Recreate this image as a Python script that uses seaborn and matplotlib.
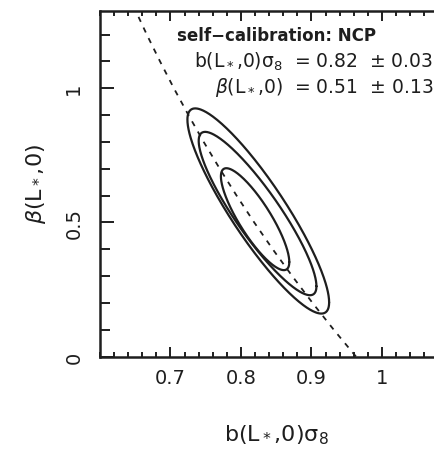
import numpy as np
import matplotlib
matplotlib.use("Agg")
import matplotlib.pyplot as plt
from matplotlib.ticker import MultipleLocator
import seaborn as sns

# Degeneracy curve (beta vs b*sigma8)
curve_beta = [0.0, 0.1, 0.2, 0.3, 0.4, 0.5, 0.6, 0.7, 0.8, 0.9, 1.0, 1.1, 1.2, 1.3]
curve_bsig = [0.963, 0.9315, 0.9014, 0.8726, 0.8450, 0.8187, 0.7937,
              0.7699, 0.7471, 0.7255, 0.7048, 0.6852, 0.6664, 0.6486]

# Confidence contours (68%, 95%, 99%)
cont_cx = [0.820, 0.8235, 0.8245]
cont_cy = [0.512, 0.533, 0.5425]
cont_hx = [0.0485, 0.0835, 0.1005]
cont_hy = [0.190, 0.3045, 0.3825]
cont_rho = [-0.84, -0.89, -0.89]

x_ticks = [0.7, 0.8, 0.9, 1.0]
x_ticklabels = ["0.7", "0.8", "0.9", "1"]
y_ticks = [0.0, 0.5, 1.0]
y_ticklabels = ["0", "0.5", "1"]

title_line = "self\u2212calibration: NCP"
res_line1 = "b(L$_*$,0)\u03c3$_8$  = 0.82  \u00b1 0.03"
res_line2 = "$\\beta$(L$_*$,0)  = 0.51  \u00b1 0.13"
xlabel = "b(L$_*$,0)\u03c3$_8$"
ylabel = "$\\beta$(L$_*$,0)"

sns.set_style("ticks")
plt.rcParams['font.family'] = ['DejaVu Sans']
plt.rcParams['mathtext.fontset'] = 'dejavusans'

ink = '#1e1e1e'
fig = plt.figure(figsize=(4.35, 4.52), dpi=100)
ax = fig.add_axes([100/435, 94.5/452, 352.5/435, 346/452])

t = np.linspace(0, 2*np.pi, 400)
for cx, cy, hx, hy, r in zip(cont_cx, cont_cy, cont_hx, cont_hy, cont_rho):
    ex = cx + hx*np.cos(t)
    ey = cy + hy*(r*np.cos(t) + np.sqrt(1 - r*r)*np.sin(t))
    sns.lineplot(x=ex, y=ey, sort=False, estimator=None, ax=ax,
                 color=ink, lw=1.6)

sns.lineplot(x=curve_bsig, y=curve_beta, sort=False, estimator=None, ax=ax,
             color=ink, lw=1.3, linestyle=(0, (3, 3.5)))

ax.set_xlim(0.6, 1.1)
ax.set_ylim(0.0, 1.29)
ax.set_xticks(x_ticks)
ax.set_xticklabels(x_ticklabels)
ax.set_yticks(y_ticks)
ax.set_yticklabels(y_ticklabels, rotation=90, va='center')
ax.xaxis.set_minor_locator(MultipleLocator(0.02))
ax.yaxis.set_minor_locator(MultipleLocator(0.1))
ax.tick_params(which='both', direction='in', top=True, right=True,
               width=1.4, colors=ink, labelsize=14)
ax.tick_params(axis='x', which='major', length=7.5, pad=8)
ax.tick_params(axis='x', which='minor', length=3.8)
ax.tick_params(axis='y', which='major', length=10, pad=12)
ax.tick_params(axis='y', which='minor', length=7)
for s in ax.spines.values():
    s.set_linewidth(1.8)
    s.set_color(ink)

ax.set_xlabel(xlabel, fontsize=16, labelpad=26, color=ink)
ax.set_ylabel(ylabel, fontsize=16, labelpad=12, color=ink)

ax.text(0.5, 0.928, title_line, transform=ax.transAxes, ha='center',
        va='center', fontsize=12, fontweight='bold', color=ink)
ax.text(0.945, 0.855, res_line1, transform=ax.transAxes, ha='right',
        va='center', fontsize=13.5, color=ink)
ax.text(0.945, 0.780, res_line2, transform=ax.transAxes, ha='right',
        va='center', fontsize=13.5, color=ink)

fig.savefig("out.png", dpi=100)
